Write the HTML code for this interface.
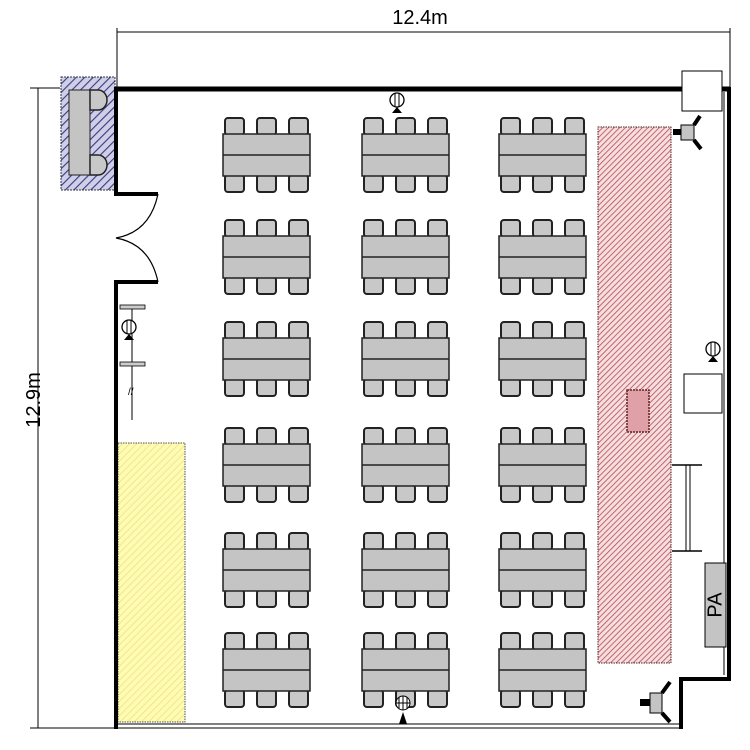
<!DOCTYPE html>
<html><head><meta charset="utf-8"><style>body{margin:0;background:#fff}svg{display:block}</style></head><body>
<svg width="750" height="750" viewBox="0 0 750 750" xmlns="http://www.w3.org/2000/svg" font-family="Liberation Sans, sans-serif">
<defs>
<pattern id="hb" width="6" height="6" patternUnits="userSpaceOnUse" patternTransform="rotate(45)"><rect width="6" height="6" fill="#cfcfe8"/><line x1="0" y1="0" x2="0" y2="6" stroke="#3a3a80" stroke-width="2.2"/></pattern>
<pattern id="hr" width="4" height="4" patternUnits="userSpaceOnUse" patternTransform="rotate(45)"><rect width="4" height="4" fill="#f4dede"/><line x1="0" y1="0" x2="0" y2="4" stroke="#b84858" stroke-width="1.6"/></pattern>
<pattern id="hy" width="5" height="5" patternUnits="userSpaceOnUse" patternTransform="rotate(45)"><rect width="5" height="5" fill="#fffbb0"/><line x1="0" y1="0" x2="0" y2="5" stroke="#e8e090" stroke-width="1.5"/></pattern>
<g id="u">
<rect x="2" y="0" width="19" height="17" rx="3" fill="#c8c8c8" stroke="#222" stroke-width="2"/>
<rect x="34" y="0" width="19" height="17" rx="3" fill="#c8c8c8" stroke="#222" stroke-width="2"/>
<rect x="66" y="0" width="19" height="17" rx="3" fill="#c8c8c8" stroke="#222" stroke-width="2"/>
<rect x="2" y="57" width="19" height="17" rx="3" fill="#c8c8c8" stroke="#222" stroke-width="2"/>
<rect x="34" y="57" width="19" height="17" rx="3" fill="#c8c8c8" stroke="#222" stroke-width="2"/>
<rect x="66" y="57" width="19" height="17" rx="3" fill="#c8c8c8" stroke="#222" stroke-width="2"/>
<rect x="0" y="16" width="87" height="42" fill="#c4c4c4" stroke="#222" stroke-width="1.5"/>
<line x1="0" y1="37" x2="87" y2="37" stroke="#222" stroke-width="1.5"/>
</g>
<g id="o"><circle cx="0" cy="0" r="7" fill="#fff" stroke="#000" stroke-width="1.3"/><line x1="-2" y1="-7" x2="-2" y2="7" stroke="#000"/><line x1="2" y1="-7" x2="2" y2="7" stroke="#000"/><path d="M-5 13 L0 7 L5 13Z" fill="#000"/></g>
</defs>
<text x="420" y="24" font-size="20" text-anchor="middle">12.4m</text>
<line x1="117" y1="32" x2="730" y2="32" stroke="#000"/>
<line x1="117" y1="28" x2="117" y2="88" stroke="#000"/>
<line x1="730" y1="28" x2="730" y2="88" stroke="#000"/>
<line x1="38" y1="88" x2="38" y2="728" stroke="#000"/>
<line x1="30" y1="88" x2="60" y2="88" stroke="#000"/>
<line x1="30" y1="728" x2="116" y2="728" stroke="#000"/>
<text x="40" y="400" font-size="20" text-anchor="middle" transform="rotate(-90 40 400)">12.9m</text>
<rect x="61" y="77" width="54" height="113" fill="url(#hb)" stroke="#334" stroke-dasharray="2,1"/>
<rect x="69" y="90" width="21" height="85" fill="#c4c4c4" stroke="#222"/>
<path d="M90 90 h8 a9 10 0 0 1 0 20 h-8z" fill="#c8c8c8" stroke="#222" stroke-width="1.5"/>
<path d="M90 155 h8 a9 10 0 0 1 0 20 h-8z" fill="#c8c8c8" stroke="#222" stroke-width="1.5"/>
<rect x="118" y="443" width="67" height="279" fill="url(#hy)" stroke="#555" stroke-dasharray="1.5,1"/>
<rect x="598" y="127" width="73" height="536" fill="url(#hr)" stroke="#522" stroke-dasharray="1.5,1"/>
<rect x="627" y="390" width="22" height="42" fill="#e0a0a8" stroke="#622" stroke-dasharray="2,1" stroke-width="1.5"/>
<line x1="115" y1="89" x2="730" y2="89" stroke="#000" stroke-width="5"/>
<path d="M116 87 V194 H158" fill="none" stroke="#000" stroke-width="4"/>
<path d="M158 282 H116 V729" fill="none" stroke="#000" stroke-width="4"/>
<path d="M158 194 Q150 232 116 238 Q150 244 158 282" fill="none" stroke="#000" stroke-width="1.2"/>
<line x1="118" y1="724" x2="680" y2="724" stroke="#000"/>
<line x1="118" y1="728" x2="680" y2="728" stroke="#000"/>
<path d="M729 87 V679 H681 V729" fill="none" stroke="#000" stroke-width="4"/>
<line x1="724" y1="92" x2="724" y2="675" stroke="#000"/>
<rect x="682" y="71" width="40" height="40" fill="#fff" stroke="#000"/>
<line x1="132" y1="305" x2="132" y2="420" stroke="#000"/>
<rect x="120" y="305" width="25" height="4" fill="#ccc" stroke="#000" stroke-width="0.8"/>
<rect x="120" y="362" width="25" height="4" fill="#ccc" stroke="#000" stroke-width="0.8"/>
<text x="128" y="395" font-size="10">//</text>
<use href="#o" x="129" y="327"/>
<use href="#u" x="223" y="118"/><use href="#u" x="362" y="118"/><use href="#u" x="499" y="118"/>
<use href="#u" x="223" y="220"/><use href="#u" x="362" y="220"/><use href="#u" x="499" y="220"/>
<use href="#u" x="223" y="322"/><use href="#u" x="362" y="322"/><use href="#u" x="499" y="322"/>
<use href="#u" x="223" y="428"/><use href="#u" x="362" y="428"/><use href="#u" x="499" y="428"/>
<use href="#u" x="223" y="533"/><use href="#u" x="362" y="533"/><use href="#u" x="499" y="533"/>
<use href="#u" x="223" y="633"/><use href="#u" x="362" y="633"/><use href="#u" x="499" y="633"/>
<use href="#o" x="397" y="100"/>
<circle cx="403" cy="703" r="7" fill="#fff" stroke="#000"/><line x1="396" y1="703" x2="410" y2="703" stroke="#000"/><line x1="403" y1="696" x2="403" y2="710" stroke="#000"/><line x1="399" y1="697" x2="399" y2="709" stroke="#000"/><line x1="407" y1="697" x2="407" y2="709" stroke="#000"/><path d="M399 724 L403 712 L407 724Z" fill="#000"/>
<use href="#o" x="713" y="349"/>
<rect x="684" y="374" width="38" height="39" fill="#fff" stroke="#000"/>
<line x1="686" y1="465" x2="686" y2="551" stroke="#000"/><line x1="690" y1="465" x2="690" y2="551" stroke="#000"/>
<line x1="672" y1="465" x2="702" y2="465" stroke="#000" stroke-width="1.5"/><line x1="672" y1="551" x2="702" y2="551" stroke="#000" stroke-width="1.5"/>
<rect x="705" y="563" width="21" height="84" fill="#c4c4c4" stroke="#000"/>
<text x="716" y="605" font-size="20" text-anchor="middle" dominant-baseline="middle" transform="rotate(-90 716 605)">PA</text>
<rect x="681" y="125" width="13" height="15" fill="#c4c4c4" stroke="#000"/>
<rect x="673" y="129" width="8" height="6" fill="#000"/>
<path d="M694 125 L700 116 M694 140 L701 149" stroke="#000" stroke-width="4"/>
<rect x="650" y="693" width="12" height="20" fill="#c4c4c4" stroke="#000"/>
<rect x="640" y="699" width="10" height="7" fill="#000"/>
<path d="M662 693 L670 682 M662 713 L670 722" stroke="#000" stroke-width="4"/>
</svg>
</body></html>
